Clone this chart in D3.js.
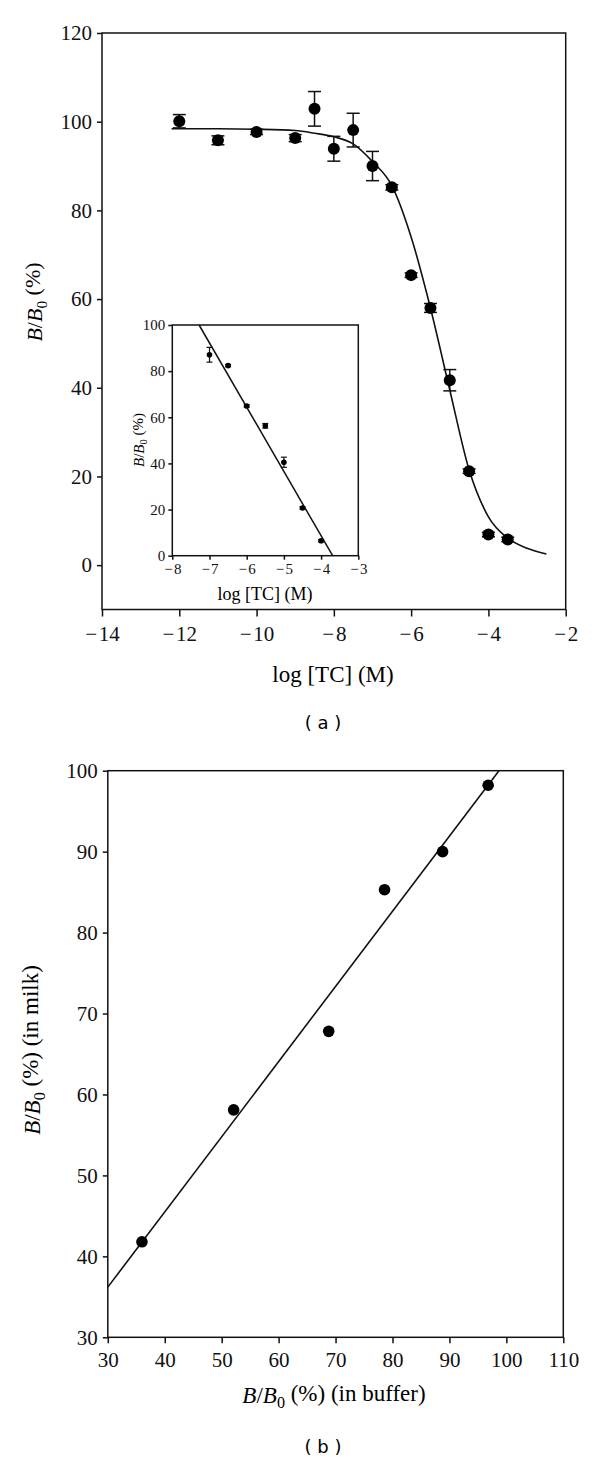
<!DOCTYPE html>
<html>
<head>
<meta charset="utf-8">
<script src="https://cdn.jsdelivr.net/npm/d3@7"></script>
<style>
  body { margin: 0; background: #fff; }
  .axis path, .axis line { stroke: #111; stroke-width: 1.5; }
</style>
</head>
<body>
<div id="chart"></div>
<script>
// panel (a): binding curve, log[TC] vs B/B0
const tcLog = [-12, -11, -10, -9, -8.5, -8, -7.5, -7, -6.5, -6, -5.5, -5, -4.5, -4, -3.5]
const tcB = [100.1, 95.8, 97.7, 96.3, 102.9, 93.9, 98.1, 90.0, 85.2, 65.4, 58.0, 41.7, 21.2, 6.9, 5.8]
const tcErr = [1.5, 1.0, 0.6, 0.8, 3.9, 2.8, 3.8, 3.3, 0.6, 0.5, 1.0, 2.4, 0.5, 0.5, 0.5]
// fitted sigmoid
const fitLog = [-12.2, -11, -10, -9, -8.5, -8, -7.5, -7, -6.5, -6, -5.5, -5, -4.5, -4, -3.5, -3, -2.5]
const fitB = [98.4, 98.4, 98.3, 98.0, 97.4, 96.6, 95.0, 91.0, 85.6, 74.0, 58.0, 39.5, 21.5, 10.9, 6.1, 3.8, 2.5]
const mainXTicks = [-14, -12, -10, -8, -6, -4, -2]
const mainYTicks = [0, 20, 40, 60, 80, 100, 120]

// inset: linear range
const inLog = [-7, -6.5, -6, -5.5, -5, -4.5, -4]
const inB = [87.1, 82.4, 64.9, 56.3, 40.5, 20.7, 6.5]
const inErr = [3.2, 0.5, 0.5, 1.0, 2.2, 0.5, 0.5]
const inLineLog = [-7.28, -3.69]
const inLineB = [100, 0]
const inXTicks = [-8, -7, -6, -5, -4, -3]
const inYTicks = [0, 20, 40, 60, 80, 100]

// panel (b): milk vs buffer
const bufB = [36.0, 52.1, 68.8, 78.6, 88.8, 96.8]
const milkB = [41.8, 58.1, 67.8, 85.3, 90.0, 98.2]
const bLineX = [30, 98.7]
const bLineY = [36.2, 100]
const bXTicks = [30, 40, 50, 60, 70, 80, 90, 100, 110]
const bYTicks = [30, 40, 50, 60, 70, 80, 90, 100]

const SERIF = "'Liberation Serif', 'DejaVu Serif', serif"
const SANS = "'DejaVu Sans', sans-serif"
// minus sign followed by a hair gap, as in the original figure
const fmt = d => d < 0 ? "\u2212\u200A" + Math.abs(d) : String(d)

const svg = d3.select("#chart").append("svg")
    .attr("width", 600)
    .attr("height", 1461)
    .attr("font-family", SERIF)

// B/B0 label with italic B and subscript 0
function bLabel(sel, tail) {
    sel.append("tspan").attr("font-style", "italic").text("B")
    sel.append("tspan").text("/")
    sel.append("tspan").attr("font-style", "italic").text("B")
    sel.append("tspan").attr("font-size", "70%").attr("dy", "0.3em").text("0")
    sel.append("tspan").attr("dy", "-0.3em").text(tail)
}

function frame(g, w, h) {
    g.append("rect")
        .attr("width", w).attr("height", h)
        .attr("fill", "#fff")
        .attr("stroke", "#111").attr("stroke-width", 1.5)
}

// axis helper: keep ticks + labels, the frame draws the lines
function drawAxis(g, axis, size) {
    g.attr("class", "axis").call(axis)
    g.attr("font-family", SERIF).attr("font-size", size)
    g.select(".domain").remove()
    g.selectAll("text").attr("fill", "#111")
}

function errorBars(g, xs, ys, es, x, y, cap, sw) {
    const eb = g.append("g").attr("stroke", "#111").attr("stroke-width", sw)
    xs.forEach((v, i) => {
        const cx = x(v), lo = y(ys[i] - es[i]), hi = y(ys[i] + es[i])
        eb.append("line").attr("x1", cx).attr("x2", cx).attr("y1", lo).attr("y2", hi)
        eb.append("line").attr("x1", cx - cap).attr("x2", cx + cap).attr("y1", lo).attr("y2", lo)
        eb.append("line").attr("x1", cx - cap).attr("x2", cx + cap).attr("y1", hi).attr("y2", hi)
    })
}

// ---------- panel (a) ----------
const a = { left: 102, top: 33, width: 463.7, height: 576.5 }
const ax = d3.scaleLinear().domain([-14, -2]).range([0, a.width])
const ay = d3.scaleLinear().domain([-10, 120]).range([a.height, 0])
const ga = svg.append("g").attr("transform", `translate(${a.left},${a.top})`)
frame(ga, a.width, a.height)

ga.append("g").attr("transform", `translate(0,${a.height})`)
    .call(drawAxis, d3.axisBottom(ax).tickValues(mainXTicks).tickFormat(fmt).tickSize(7).tickSizeOuter(0).tickPadding(10), 21)
ga.append("g")
    .call(drawAxis, d3.axisLeft(ay).tickValues(mainYTicks).tickFormat(fmt).tickSize(5).tickSizeOuter(0).tickPadding(5), 21)

errorBars(ga, tcLog, tcB, tcErr, ax, ay, 6.5, 1.5)
ga.append("path")
    .datum(fitLog.map((v, i) => [v, fitB[i]]))
    .attr("fill", "none").attr("stroke", "#111").attr("stroke-width", 1.6)
    .attr("d", d3.line().curve(d3.curveMonotoneX).x(d => ax(d[0])).y(d => ay(d[1])))
ga.selectAll("circle.pt")
    .data(tcLog)
    .join("circle")
    .attr("class", "pt")
    .attr("cx", d => ax(d))
    .attr("cy", (d, i) => ay(tcB[i]))
    .attr("r", 6)
    .attr("fill", "#000")

svg.append("text")
    .attr("x", 333).attr("y", 682)
    .attr("text-anchor", "middle").attr("font-size", 23)
    .text("log [TC] (M)")
svg.append("text")
    .attr("transform", "translate(42,302) rotate(-90)")
    .attr("text-anchor", "middle").attr("font-size", 22)
    .call(bLabel, " (%)")
svg.append("text")
    .attr("font-family", SANS)
    .attr("x", 323).attr("y", 729)
    .attr("text-anchor", "middle").attr("font-size", 18)
    .attr("xml:space", "preserve")
    .text("( a )")

// ---------- inset ----------
const n = { left: 172.3, top: 325, width: 186, height: 230.7 }
const nx = d3.scaleLinear().domain([-8, -3]).range([0, n.width])
const ny = d3.scaleLinear().domain([0, 100]).range([n.height, 0])
const gn = svg.append("g").attr("transform", `translate(${n.left},${n.top})`)
frame(gn, n.width, n.height)
gn.append("g").attr("transform", `translate(0,${n.height})`)
    .call(drawAxis, d3.axisBottom(nx).tickValues(inXTicks).tickFormat(fmt).tickSize(4).tickSizeOuter(0).tickPadding(4), 15)
gn.append("g")
    .call(drawAxis, d3.axisLeft(ny).tickValues(inYTicks).tickFormat(fmt).tickSize(4).tickSizeOuter(0).tickPadding(3), 15)
gn.selectAll(".axis line").attr("stroke-width", 1.2)

errorBars(gn, inLog, inB, inErr, nx, ny, 3, 1.2)
gn.append("path")
    .datum(inLineLog.map((v, i) => [v, inLineB[i]]))
    .attr("fill", "none").attr("stroke", "#111").attr("stroke-width", 1.5)
    .attr("d", d3.line().x(d => nx(d[0])).y(d => ny(d[1])))
gn.selectAll("circle.pt")
    .data(inLog)
    .join("circle")
    .attr("class", "pt")
    .attr("cx", d => nx(d))
    .attr("cy", (d, i) => ny(inB[i]))
    .attr("r", 2.8)
    .attr("fill", "#000")

svg.append("text")
    .attr("x", 265).attr("y", 600)
    .attr("text-anchor", "middle").attr("font-size", 18)
    .text("log [TC] (M)")
svg.append("text")
    .attr("transform", "translate(144,440) rotate(-90)")
    .attr("text-anchor", "middle").attr("font-size", 15)
    .call(bLabel, " (%)")

// ---------- panel (b) ----------
const b = { left: 107.8, top: 770.7, width: 455.5, height: 566.6 }
const bx = d3.scaleLinear().domain([30, 110]).range([0, b.width])
const by = d3.scaleLinear().domain([30, 100]).range([b.height, 0])
const gb = svg.append("g").attr("transform", `translate(${b.left},${b.top})`)
frame(gb, b.width, b.height)
gb.append("g").attr("transform", `translate(0,${b.height})`)
    .call(drawAxis, d3.axisBottom(bx).tickValues(bXTicks).tickFormat(fmt).tickSize(6).tickSizeOuter(0).tickPadding(9), 21)
gb.append("g")
    .call(drawAxis, d3.axisLeft(by).tickValues(bYTicks).tickFormat(fmt).tickSize(5).tickSizeOuter(0).tickPadding(5), 21)

gb.append("path")
    .datum(bLineX.map((v, i) => [v, bLineY[i]]))
    .attr("fill", "none").attr("stroke", "#111").attr("stroke-width", 1.6)
    .attr("d", d3.line().x(d => bx(d[0])).y(d => by(d[1])))
gb.selectAll("circle.pt")
    .data(bufB)
    .join("circle")
    .attr("class", "pt")
    .attr("cx", d => bx(d))
    .attr("cy", (d, i) => by(milkB[i]))
    .attr("r", 5.8)
    .attr("fill", "#000")

svg.append("text")
    .attr("x", 334).attr("y", 1403)
    .attr("text-anchor", "middle").attr("font-size", 23)
    .call(bLabel, " (%) (in buffer)")
svg.append("text")
    .attr("transform", "translate(40,1050) rotate(-90)")
    .attr("text-anchor", "middle").attr("font-size", 23)
    .call(bLabel, " (%) (in milk)")
svg.append("text")
    .attr("font-family", SANS)
    .attr("x", 323).attr("y", 1453)
    .attr("text-anchor", "middle").attr("font-size", 18)
    .attr("xml:space", "preserve")
    .text("( b )")
</script>
</body>
</html>
